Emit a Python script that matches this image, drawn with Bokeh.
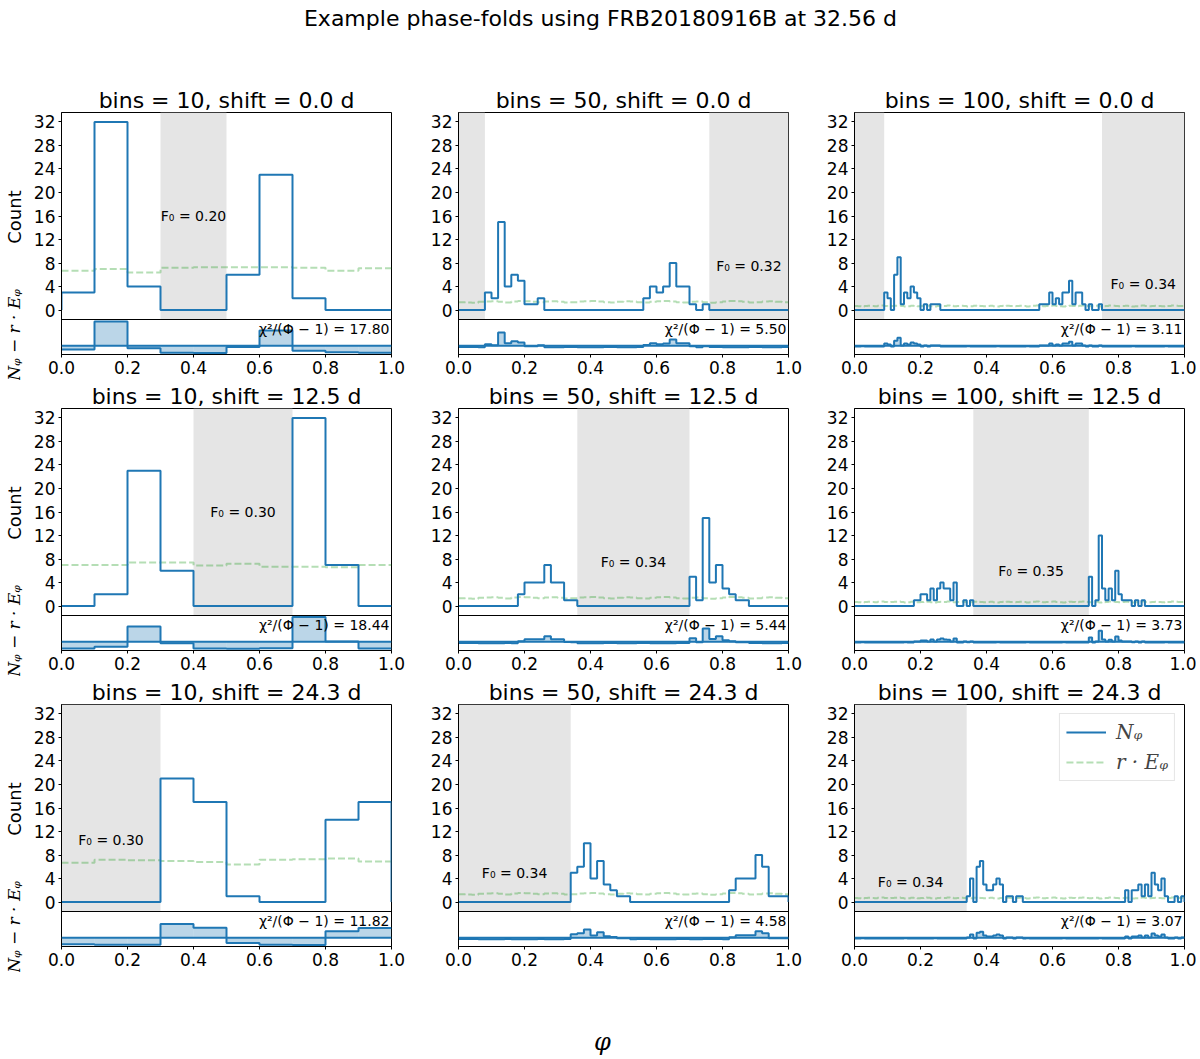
import numpy as np
from bokeh.plotting import figure
from bokeh.layouts import column, row
from bokeh.models import Range1d, FixedTicker, PrintfTickFormatter, Span, Label, Legend, LegendItem
from bokeh.core.properties import value
from bokeh.embed import file_html
from bokeh.resources import INLINE

period = 32.56
shifts = [0.0, 12.5, 24.3]
bin_counts = [10, 50, 100]

# N_phi per phase bin
n10_s0 = [3, 32, 4, 0, 0, 6, 23, 2, 0, 0]
n10_s1 = [0, 2, 23, 6, 0, 0, 0, 32, 7, 0]
n10_s2 = [0, 0, 0, 21, 17, 1, 0, 0, 14, 17]

n50_s0 = [0, 0, 0, 0, 3, 2, 15, 4, 6, 5,
          1, 1, 2, 0, 0, 0, 0, 0, 0, 0,
          0, 0, 0, 0, 0, 0, 0, 0, 2, 4,
          3, 4, 8, 4, 4, 1, 0, 1, 0, 0,
          0, 0, 0, 0, 0, 0, 0, 0, 0, 0]
n50_s1 = [0, 0, 0, 0, 0, 0, 0, 0, 0, 2,
          4, 4, 4, 7, 4, 4, 1, 1, 0, 0,
          0, 0, 0, 0, 0, 0, 0, 0, 0, 0,
          0, 0, 0, 0, 0, 5, 1, 15, 4, 7,
          3, 2, 1, 1, 0, 0, 0, 0, 0, 0]
n50_s2 = [0, 0, 0, 0, 0, 0, 0, 0, 0, 0,
          0, 0, 0, 0, 0, 0, 0, 5, 6, 10,
          4, 7, 3, 2, 1, 1, 0, 0, 0, 0,
          0, 0, 0, 0, 0, 0, 0, 0, 0, 0,
          0, 2, 4, 4, 4, 8, 6, 1, 1, 1]

n100_s0 = [0, 0, 0, 0, 0, 0, 0, 0, 0, 3,
           2, 0, 6, 9, 1, 3, 2, 4, 3, 2,
           0, 1, 0, 1, 1, 1, 0, 0, 0, 0,
           0, 0, 0, 0, 0, 0, 0, 0, 0, 0,
           0, 0, 0, 0, 0, 0, 0, 0, 0, 0,
           0, 0, 0, 0, 0, 0, 1, 1, 1, 3,
           1, 2, 1, 3, 3, 5, 1, 3, 3, 1,
           0, 1, 0, 0, 1, 0, 0, 0, 0, 0,
           0, 0, 0, 0, 0, 0, 0, 0, 0, 0,
           0, 0, 0, 0, 0, 0, 0, 0, 0, 0]
n100_s1 = [0, 0, 0, 0, 0, 0, 0, 0, 0, 0,
           0, 0, 0, 0, 0, 0, 0, 0, 1, 1,
           2, 2, 1, 3, 1, 3, 4, 3, 3, 1,
           4, 0, 0, 1, 0, 1, 0, 0, 0, 0,
           0, 0, 0, 0, 0, 0, 0, 0, 0, 0,
           0, 0, 0, 0, 0, 0, 0, 0, 0, 0,
           0, 0, 0, 0, 0, 0, 0, 0, 0, 0,
           0, 5, 0, 1, 12, 3, 1, 3, 1, 6,
           2, 1, 1, 1, 0, 1, 0, 1, 0, 0,
           0, 0, 0, 0, 0, 0, 0, 0, 0, 0]
n100_s2 = [0, 0, 0, 0, 0, 0, 0, 0, 0, 0,
           0, 0, 0, 0, 0, 0, 0, 0, 0, 0,
           0, 0, 0, 0, 0, 0, 0, 0, 0, 0,
           0, 0, 0, 0, 1, 4, 0, 6, 7, 3,
           2, 2, 3, 4, 3, 0, 1, 1, 0, 1,
           1, 0, 0, 0, 0, 0, 0, 0, 0, 0,
           0, 0, 0, 0, 0, 0, 0, 0, 0, 0,
           0, 0, 0, 0, 0, 0, 0, 0, 0, 0,
           0, 0, 2, 0, 2, 2, 3, 1, 3, 1,
           5, 3, 2, 4, 1, 0, 0, 1, 0, 1]

# r * E_phi, the dashed expectation
e10_s0 = [6.7, 7.0, 6.4, 7.2, 7.3, 7.3, 7.3, 7.2, 6.7, 7.1]
e10_s1 = [7.0, 7.0, 7.4, 7.4, 6.9, 7.2, 6.7, 6.7, 6.6, 7.0]
e10_s2 = [6.7, 7.2, 7.1, 7.0, 6.8, 6.4, 7.2, 7.3, 7.4, 6.9]
e50 = [1.35, 1.30, 1.25, 1.40, 1.45, 1.50, 1.40, 1.30, 1.45, 1.55,
       1.50, 1.40, 1.35, 1.45, 1.50, 1.40, 1.30, 1.35, 1.45, 1.50,
       1.55, 1.45, 1.35, 1.30, 1.40, 1.50, 1.45, 1.35, 1.30, 1.40,
       1.50, 1.55, 1.45, 1.35, 1.30, 1.40, 1.45, 1.35, 1.25, 1.35,
       1.45, 1.55, 1.50, 1.40, 1.30, 1.35, 1.45, 1.50, 1.40, 1.35]
e100 = [0.70, 0.65, 0.60, 0.70, 0.75, 0.70, 0.65, 0.75, 0.80, 0.70,
        0.65, 0.70, 0.75, 0.80, 0.70, 0.60, 0.65, 0.75, 0.70, 0.65,
        0.70, 0.80, 0.75, 0.65, 0.60, 0.70, 0.75, 0.70, 0.80, 0.75,
        0.65, 0.70, 0.75, 0.70, 0.60, 0.65, 0.75, 0.80, 0.70, 0.65,
        0.70, 0.75, 0.65, 0.60, 0.70, 0.80, 0.75, 0.70, 0.65, 0.70,
        0.75, 0.70, 0.60, 0.65, 0.75, 0.80, 0.70, 0.65, 0.70, 0.75,
        0.80, 0.70, 0.65, 0.60, 0.70, 0.75, 0.70, 0.65, 0.75, 0.80,
        0.70, 0.65, 0.70, 0.75, 0.60, 0.65, 0.70, 0.80, 0.75, 0.70,
        0.65, 0.70, 0.75, 0.70, 0.60, 0.65, 0.75, 0.80, 0.70, 0.65,
        0.70, 0.75, 0.70, 0.65, 0.60, 0.70, 0.80, 0.75, 0.70, 0.70]

# grey "empty" phase windows
shade_10_s0 = [(0.30, 0.50)]
shade_50_s0 = [(0.00, 0.08), (0.76, 1.00)]
shade_100_s0 = [(0.00, 0.09), (0.75, 1.00)]
shade_10_s1 = [(0.40, 0.70)]
shade_50_s1 = [(0.36, 0.70)]
shade_100_s1 = [(0.36, 0.71)]
shade_10_s2 = [(0.00, 0.30)]
shade_50_s2 = [(0.00, 0.34)]
shade_100_s2 = [(0.00, 0.34)]

f0_10 = [0.20, 0.30, 0.30]
f0_50 = [0.32, 0.34, 0.34]
f0_100 = [0.34, 0.35, 0.34]
chi_10 = [17.80, 18.44, 11.82]
chi_50 = [5.50, 5.44, 4.58]
chi_100 = [3.11, 3.73, 3.07]

N = [[n10_s0, n50_s0, n100_s0], [n10_s1, n50_s1, n100_s1], [n10_s2, n50_s2, n100_s2]]
E = [[e10_s0, e50, e100], [e10_s1, e50, e100], [e10_s2, e50, e100]]
SH = [[shade_10_s0, shade_50_s0, shade_100_s0], [shade_10_s1, shade_50_s1, shade_100_s1],
      [shade_10_s2, shade_50_s2, shade_100_s2]]
F0 = [f0_10, f0_50, f0_100]
CHI = [chi_10, chi_50, chi_100]

BLUE = "#1f77b4"
GREEN = "#2ca02c"
SHADE = "#e5e5e5"
SANS = "DejaVu Sans"
SERIF = "DejaVu Serif"

FW, MH, RH = 330, 207, 35   # frame width, count panel height, residual panel height
CH = MH + RH
BT, BB = 28, 26             # border above (title) and below (x ticks) each cell
LABW = 30                   # strip holding the y labels of the first column

#shared y limits, matplotlib style 5% margins
top = max(max(n) for rw in N for n in rw)
y_lo, y_hi = -0.05 * top, 1.05 * top
y_lo_full = y_hi - (y_hi - y_lo) * CH / MH
res_all = np.concatenate([np.asarray(N[i][j], float) - np.asarray(E[i][j], float) for i in range(3) for j in range(3)])
pad = 0.05 * (res_all.max() - res_all.min())
r_lo, r_hi = res_all.min() - pad, res_all.max() + pad
r_hi_full = r_lo + (r_hi - r_lo) * CH / RH


def cell(i, j):
    nb = bin_counts[j]
    n = np.asarray(N[i][j], float)
    e = np.asarray(E[i][j], float)
    edges = np.linspace(0, 1, nb + 1)
    p = figure(title="bins = %d, shift = %.1f d" % (nb, shifts[i]),
               frame_width=FW, frame_height=CH,
               x_range=Range1d(0, 1), y_range=Range1d(y_lo_full, y_hi),
               min_border_left=[60 - LABW, 53, 52][j], min_border_right=[14, 14, 12][j],
               min_border_top=BT, min_border_bottom=BB,
               toolbar_location=None, output_backend="svg")
    p.extra_y_ranges = {"res": Range1d(r_lo, r_hi_full)}

    #styling
    p.title.align = "center"
    p.title.text_font = SANS
    p.title.text_font_size = "22px"
    p.title.text_font_style = "normal"
    p.title.text_color = "black"
    p.title.standoff = 0
    p.grid.visible = False
    p.outline_line_color = "black"
    p.axis.axis_line_color = "black"
    p.axis.major_tick_line_color = "black"
    p.axis.minor_tick_line_color = None
    p.axis.major_tick_in = 0
    p.axis.major_tick_out = 3
    p.axis.major_label_standoff = 3
    p.axis.major_label_text_font = SANS
    p.axis.major_label_text_font_size = "17px"
    p.axis.major_label_text_color = "black"
    p.xaxis.ticker = FixedTicker(ticks=[0, 0.2, 0.4, 0.6, 0.8, 1.0])
    p.xaxis.formatter = PrintfTickFormatter(format="%.1f")
    p.yaxis.ticker = FixedTicker(ticks=list(range(0, 33, 4)))

    #grey windows
    sh = SH[i][j]
    p.quad(left=[a for a, b in sh], right=[b for a, b in sh], bottom=y_lo, top=y_hi,
           fill_color=SHADE, line_color=None)

    #expected + histogram
    ex = p.line(np.repeat(edges, 2)[1:-1], np.repeat(e, 2), line_color=GREEN, line_alpha=0.35,
                line_width=2, line_dash="7 3")
    hx = np.repeat(edges, 2)
    hy = np.concatenate([[0], np.repeat(n, 2), [0]])
    hl = p.line(hx, hy, line_color=BLUE, line_width=2)

    #divider between count and residual panels
    p.add_layout(Span(location=y_lo, dimension="width", line_color="black", line_width=1))

    #residuals
    r = n - e
    p.quad(left=edges[:-1], right=edges[1:], bottom=0, top=r, y_range_name="res",
           fill_color=BLUE, fill_alpha=0.3, line_color=None)
    p.add_layout(Span(location=0, dimension="width", y_range_name="res", line_color=BLUE, line_width=2))
    p.line(np.repeat(edges, 2)[1:-1], np.repeat(r, 2), y_range_name="res", line_color=BLUE, line_width=2)

    #annotations
    widest = max(sh, key=lambda s: s[1] - s[0])
    p.text(x=[(widest[0] + widest[1]) / 2], y=[n.max() / 2], text=["F₀ = %.2f" % F0[j][i]],
           text_align="center", text_baseline="middle", text_font=value(SANS),
           text_font_size="14px", text_color="black")
    p.text(x=[1.0], y=[r_hi], text=["χ²/(Φ − 1) = %.2f" % CHI[j][i]], y_range_name="res",
           x_offset=-2, y_offset=1, text_align="right", text_baseline="top",
           text_font=value(SANS), text_font_size="14px", text_color="black")

    if i == 2 and j == 2:
        leg = Legend(items=[LegendItem(label="Nᵩ", renderers=[hl]),
                            LegendItem(label="r · Eᵩ", renderers=[ex])],
                     location="top_right", margin=9, padding=6, spacing=6,
                     glyph_width=40, label_standoff=10,
                     label_text_font=SERIF, label_text_font_style="italic",
                     label_text_font_size="20px", border_line_color="#cccccc",
                     background_fill_alpha=0.85)
        p.add_layout(leg)
    return p


def label_strip():
    #narrow strip left of the first column: same vertical mapping as a cell, borders included
    ppu = CH / (y_hi - y_lo_full)
    ppr = CH / (r_hi_full - r_lo)
    p = figure(title=None, frame_width=LABW, frame_height=BT + CH + BB, min_border=0,
               x_range=Range1d(0, LABW), y_range=Range1d(y_lo_full - BB / ppu, y_hi + BT / ppu),
               toolbar_location=None, output_backend="svg")
    p.extra_y_ranges = {"res": Range1d(r_lo - BB / ppr, r_hi_full + BT / ppr)}
    p.axis.visible = False
    p.grid.visible = False
    p.outline_line_color = None
    #rotated text lands low, hence the offsets
    p.text(x=[14], y=[(y_lo + y_hi) / 2], text=["Count"], angle=np.pi / 2, y_offset=-27,
           text_align="center", text_baseline="middle", text_font=value(SANS),
           text_font_size="18px", text_color="black")
    p.text(x=[13], y=[(r_lo + r_hi) / 2], y_range_name="res", text=["Nᵩ − r · Eᵩ"], angle=np.pi / 2,
           y_offset=-30, text_align="center", text_baseline="middle", text_font=value(SERIF),
           text_font_style="italic", text_font_size="17px", text_color="black")
    return p


#suptitle strip
head = figure(width=1195, height=84, x_range=Range1d(0, 1), y_range=Range1d(0, 1), min_border=0,
              toolbar_location=None, output_backend="svg")
head.axis.visible = False
head.grid.visible = False
head.outline_line_color = None
head.add_layout(Label(x=600 / 1195, y=0.785, text="Example phase-folds using FRB20180916B at %.2f d" % period,
                      text_align="center", text_baseline="middle", text_font=SANS,
                      text_font_size="22px", text_color="black"))

#shared x label strip
foot = figure(width=1195, height=87, x_range=Range1d(0, 1), y_range=Range1d(0, 1), min_border=0,
              toolbar_location=None, output_backend="svg")
foot.axis.visible = False
foot.grid.visible = False
foot.outline_line_color = None
foot.add_layout(Label(x=602 / 1195, y=0.2, text="φ", text_align="center", text_baseline="middle",
                      text_font=SERIF, text_font_style="italic", text_font_size="24px",
                      text_color="black"))

rows = [row(label_strip(), *[cell(i, j) for j in range(3)]) for i in range(3)]
page = column(head, *rows, foot)

open("out.html", "w").write(file_html(page, INLINE))
